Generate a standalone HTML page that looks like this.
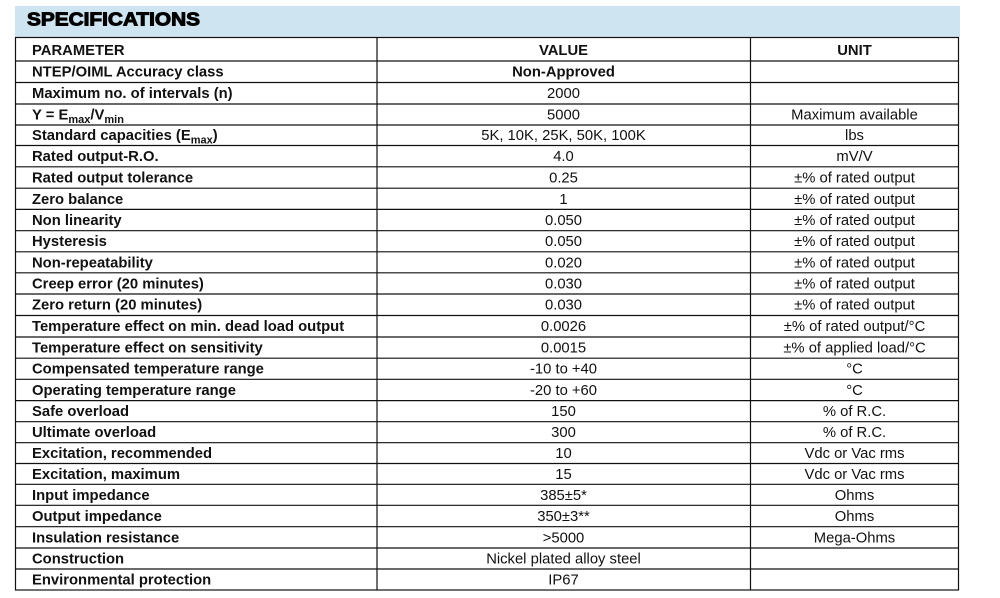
<!DOCTYPE html>
<html><head><meta charset="utf-8"><style>
html,body{margin:0;padding:0;background:#fff;}
svg{display:block;}
text{font-family:"Liberation Sans",Arial,sans-serif;fill:#111;}
.p{font-weight:bold;font-size:14.8px;}
.v{font-size:14.8px;text-anchor:middle;}
</style></head><body>
<svg width="1000" height="598" viewBox="0 0 1000 598" xmlns="http://www.w3.org/2000/svg">
<rect x="15" y="6" width="945" height="31" fill="#cfe4f1"/>
<text x="27" y="25.7" font-size="18.6" font-weight="bold" textLength="173" lengthAdjust="spacingAndGlyphs" stroke="#000" stroke-width="1" style="fill:#000">SPECIFICATIONS</text>
<g stroke="#111" stroke-width="1.2" fill="none">
<rect x="15.5" y="37.5" width="943" height="552.5"/>
<line x1="377" y1="37.5" x2="377" y2="590"/>
<line x1="750.5" y1="37.5" x2="750.5" y2="590"/>
<line x1="15.5" x2="958.5" y1="61" y2="61"/>
<line x1="15.5" x2="958.5" y1="82.5" y2="82.5"/>
<line x1="15.5" x2="958.5" y1="104" y2="104"/>
<line x1="15.5" x2="958.5" y1="125" y2="125"/>
<line x1="15.5" x2="958.5" y1="145.5" y2="145.5"/>
<line x1="15.5" x2="958.5" y1="166.8" y2="166.8"/>
<line x1="15.5" x2="958.5" y1="188.2" y2="188.2"/>
<line x1="15.5" x2="958.5" y1="209.4" y2="209.4"/>
<line x1="15.5" x2="958.5" y1="230.7" y2="230.7"/>
<line x1="15.5" x2="958.5" y1="251.8" y2="251.8"/>
<line x1="15.5" x2="958.5" y1="272.8" y2="272.8"/>
<line x1="15.5" x2="958.5" y1="294" y2="294"/>
<line x1="15.5" x2="958.5" y1="315.5" y2="315.5"/>
<line x1="15.5" x2="958.5" y1="337" y2="337"/>
<line x1="15.5" x2="958.5" y1="358.2" y2="358.2"/>
<line x1="15.5" x2="958.5" y1="379.3" y2="379.3"/>
<line x1="15.5" x2="958.5" y1="400.6" y2="400.6"/>
<line x1="15.5" x2="958.5" y1="421.7" y2="421.7"/>
<line x1="15.5" x2="958.5" y1="442.7" y2="442.7"/>
<line x1="15.5" x2="958.5" y1="463.5" y2="463.5"/>
<line x1="15.5" x2="958.5" y1="484.3" y2="484.3"/>
<line x1="15.5" x2="958.5" y1="505.3" y2="505.3"/>
<line x1="15.5" x2="958.5" y1="526.7" y2="526.7"/>
<line x1="15.5" x2="958.5" y1="548" y2="548"/>
<line x1="15.5" x2="958.5" y1="569" y2="569"/>
</g>
<text class="p" x="32" y="55">PARAMETER</text>
<text class="p" x="563.5" y="55" text-anchor="middle">VALUE</text>
<text class="p" x="854.5" y="55" text-anchor="middle">UNIT</text>

<text class="p" x="32" y="76.5">NTEP/OIML Accuracy class</text>
<text class="p" x="563.5" y="76.5" text-anchor="middle">Non-Approved</text>

<text class="p" x="32" y="98">Maximum no. of intervals (n)</text>
<text class="v" x="563.5" y="98">2000</text>

<text class="p" x="32" y="119.3">Y = E<tspan font-size="11" dy="3.5">max</tspan><tspan dy="-3.5">/V</tspan><tspan font-size="11" dy="3.5">min</tspan></text>
<text class="v" x="563.5" y="119.3">5000</text>
<text class="v" x="854.5" y="119.3">Maximum available</text>

<text class="p" x="32" y="140">Standard capacities (E<tspan font-size="11" dy="3.5">max</tspan><tspan dy="-3.5">)</tspan></text>
<text class="v" x="563.5" y="140">5K, 10K, 25K, 50K, 100K</text>
<text class="v" x="854.5" y="140">lbs</text>

<text class="p" x="32" y="161.2">Rated output-R.O.</text>
<text class="v" x="563.5" y="161.2">4.0</text>
<text class="v" x="854.5" y="161.2">mV/V</text>

<text class="p" x="32" y="182.5">Rated output tolerance</text>
<text class="v" x="563.5" y="182.5">0.25</text>
<text class="v" x="854.5" y="182.5">±% of rated output</text>

<text class="p" x="32" y="203.8">Zero balance</text>
<text class="v" x="563.5" y="203.8">1</text>
<text class="v" x="854.5" y="203.8">±% of rated output</text>

<text class="p" x="32" y="225">Non linearity</text>
<text class="v" x="563.5" y="225">0.050</text>
<text class="v" x="854.5" y="225">±% of rated output</text>

<text class="p" x="32" y="246.2">Hysteresis</text>
<text class="v" x="563.5" y="246.2">0.050</text>
<text class="v" x="854.5" y="246.2">±% of rated output</text>

<text class="p" x="32" y="267.3">Non-repeatability</text>
<text class="v" x="563.5" y="267.3">0.020</text>
<text class="v" x="854.5" y="267.3">±% of rated output</text>

<text class="p" x="32" y="288.4">Creep error (20 minutes)</text>
<text class="v" x="563.5" y="288.4">0.030</text>
<text class="v" x="854.5" y="288.4">±% of rated output</text>

<text class="p" x="32" y="309.7">Zero return (20 minutes)</text>
<text class="v" x="563.5" y="309.7">0.030</text>
<text class="v" x="854.5" y="309.7">±% of rated output</text>

<text class="p" x="32" y="331.2">Temperature effect on min. dead load output</text>
<text class="v" x="563.5" y="331.2">0.0026</text>
<text class="v" x="854.5" y="331.2">±% of rated output/°C</text>

<text class="p" x="32" y="352.6">Temperature effect on sensitivity</text>
<text class="v" x="563.5" y="352.6">0.0015</text>
<text class="v" x="854.5" y="352.6">±% of applied load/°C</text>

<text class="p" x="32" y="373.7">Compensated temperature range</text>
<text class="v" x="563.5" y="373.7">-10 to +40</text>
<text class="v" x="854.5" y="373.7">°C</text>

<text class="p" x="32" y="394.9">Operating temperature range</text>
<text class="v" x="563.5" y="394.9">-20 to +60</text>
<text class="v" x="854.5" y="394.9">°C</text>

<text class="p" x="32" y="416.1">Safe overload</text>
<text class="v" x="563.5" y="416.1">150</text>
<text class="v" x="854.5" y="416.1">% of R.C.</text>

<text class="p" x="32" y="437.2">Ultimate overload</text>
<text class="v" x="563.5" y="437.2">300</text>
<text class="v" x="854.5" y="437.2">% of R.C.</text>

<text class="p" x="32" y="458.1">Excitation, recommended</text>
<text class="v" x="563.5" y="458.1">10</text>
<text class="v" x="854.5" y="458.1">Vdc or Vac rms</text>

<text class="p" x="32" y="478.9">Excitation, maximum</text>
<text class="v" x="563.5" y="478.9">15</text>
<text class="v" x="854.5" y="478.9">Vdc or Vac rms</text>

<text class="p" x="32" y="499.8">Input impedance</text>
<text class="v" x="563.5" y="499.8">385±5*</text>
<text class="v" x="854.5" y="499.8">Ohms</text>

<text class="p" x="32" y="521">Output impedance</text>
<text class="v" x="563.5" y="521">350±3**</text>
<text class="v" x="854.5" y="521">Ohms</text>

<text class="p" x="32" y="542.4">Insulation resistance</text>
<text class="v" x="563.5" y="542.4">&gt;5000</text>
<text class="v" x="854.5" y="542.4">Mega-Ohms</text>

<text class="p" x="32" y="563.5">Construction</text>
<text class="v" x="563.5" y="563.5">Nickel plated alloy steel</text>

<text class="p" x="32" y="584.5">Environmental protection</text>
<text class="v" x="563.5" y="584.5">IP67</text>
</svg>
</body></html>
